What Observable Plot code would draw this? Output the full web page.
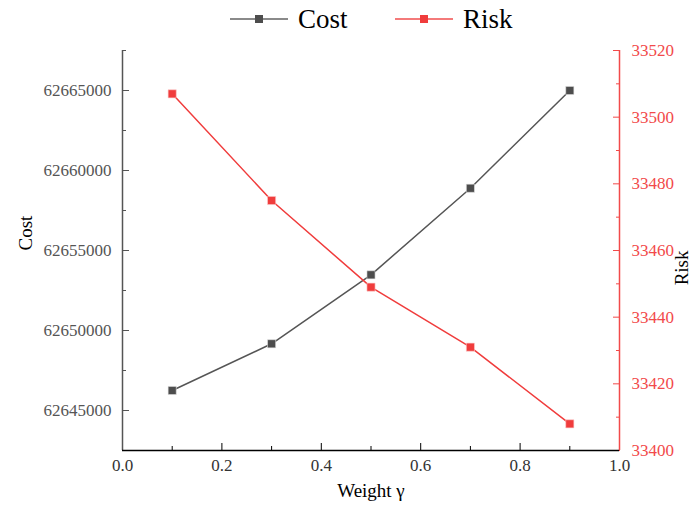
<!DOCTYPE html>
<html>
<head>
<meta charset="utf-8">
<script src="https://cdn.jsdelivr.net/npm/d3@7"></script>
<script src="https://cdn.jsdelivr.net/npm/@observablehq/plot@0.6"></script>
<style>
  body { margin: 0; background: #fff; font-family: "Liberation Serif", "Times New Roman", serif; }
  #wrap { position: relative; width: 694px; height: 513px; }
  #legend { position: relative; height: 38px; }
  .item { position: absolute; top: 0; height: 38px; display: flex; align-items: center; font-size: 27px; color: #000; }
  .item svg { margin-right: 10px; }
</style>
</head>
<body>
<div id="wrap">
  <div id="legend"></div>
  <div id="chart"></div>
</div>
<script>
// ---- data ----
const weights = [0.1, 0.3, 0.5, 0.7, 0.9];
const cost = [62646250, 62649170, 62653480, 62658890, 62665000];
const risk = [33507, 33475, 33449, 33431, 33408];
const seriesNames = ["Cost", "Risk"];
const xTicks = [0, 0.2, 0.4, 0.6, 0.8, 1.0];
const xMinor = [0.1, 0.3, 0.5, 0.7, 0.9];
const costTicks = [62645000, 62650000, 62655000, 62660000, 62665000];
const costMinor = [62647500, 62652500, 62657500, 62662500, 62667500];
const riskTicks = [33400, 33420, 33440, 33460, 33480, 33500, 33520];
const riskMinor = [33410, 33430, 33450, 33470, 33490, 33510];

// ---- scales ----
const costDomain = [62642500, 62667500];
const riskDomain = [33400, 33520];
const toC = r => costDomain[0] + (r - riskDomain[0]) * (costDomain[1] - costDomain[0]) / (riskDomain[1] - riskDomain[0]);
const fromC = c => riskDomain[0] + (c - costDomain[0]) * (riskDomain[1] - riskDomain[0]) / (costDomain[1] - costDomain[0]);

const costColor = "#4d4d4d";
const costLine = "#555555";
const riskColor = "#f03c3c";
const riskAxis = "#f24a4a";
const font = '"Liberation Serif", "Times New Roman", serif';

const costData = weights.map((w, i) => ({x: w, y: cost[i]}));
const riskData = weights.map((w, i) => ({x: w, y: toC(risk[i])}));

const chart = Plot.plot({
  width: 694,
  height: 475,
  marginLeft: 122,
  marginRight: 75,
  marginTop: 12,
  marginBottom: 63,
  style: {fontFamily: font, fontSize: "17px", background: "#fff"},
  x: {domain: [0, 1], label: null},
  y: {domain: costDomain, label: null},
  marks: [
    // minor ticks
    Plot.axisX(xMinor, {tickSize: -4, stroke: "#000", text: null, label: null}),
    Plot.axisY(costMinor, {anchor: "left", tickSize: -4, stroke: "#555", text: null, label: null}),
    Plot.axisY(riskMinor.map(toC), {anchor: "right", tickSize: -4, stroke: riskAxis, text: null, label: null}),
    // major ticks + labels
    Plot.axisX(xTicks, {tickSize: -7, tickPadding: 15, stroke: "#000", color: "#333", tickFormat: d3.format(".1f"), label: null, fontSize: 17}),
    Plot.axisY(costTicks, {anchor: "left", tickSize: -7, tickPadding: 18, stroke: "#555", color: "#555", tickFormat: d => d.toFixed(0), label: null, fontSize: 17}),
    Plot.axisY(riskTicks.map(toC), {anchor: "right", tickSize: -7, tickPadding: 19, stroke: riskAxis, color: riskAxis, tickFormat: d => String(Math.round(fromC(d))), label: null, fontSize: 17}),
    // axis lines
    Plot.ruleX([0], {stroke: "#555", strokeWidth: 1.5}),
    Plot.ruleX([1], {stroke: riskAxis, strokeWidth: 1.5}),
    Plot.ruleY([costDomain[0]], {stroke: "#000", strokeWidth: 1.5}),
    // axis titles
    Plot.text(["Cost"], {frameAnchor: "left", dx: -97, rotate: -90, fontSize: 19, fill: "#000"}),
    Plot.text(["Risk"], {frameAnchor: "right", dx: 62, rotate: -90, fontSize: 19, fill: "#000"}),
    Plot.text(["Weight γ"], {frameAnchor: "bottom", dy: 46, fontSize: 19, fill: "#000"}),
    // series
    Plot.line(costData, {x: "x", y: "y", stroke: costLine, strokeWidth: 1.5}),
    Plot.line(riskData, {x: "x", y: "y", stroke: riskColor, strokeWidth: 1.5}),
    Plot.dot(costData, {x: "x", y: "y", symbol: "square", r: 4.6, fill: costColor, stroke: "#e6e6e6", strokeWidth: 0.6}),
    Plot.dot(riskData, {x: "x", y: "y", symbol: "square", r: 4.6, fill: riskColor, stroke: "#fbd0d0", strokeWidth: 0.6})
  ]
});
document.getElementById("chart").appendChild(chart);

// ---- legend ----
const legend = document.getElementById("legend");
const legendItems = [
  {name: seriesNames[0], line: "#8a8a8a", fill: costColor, left: 230},
  {name: seriesNames[1], line: "#f47a7a", fill: riskColor, left: 395}
];
for (const it of legendItems) {
  const div = document.createElement("div");
  div.className = "item";
  div.style.left = it.left + "px";
  div.innerHTML = `<svg width="58" height="12"><line x1="0" y1="6" x2="58" y2="6" stroke="${it.line}" stroke-width="2"/><rect x="25" y="2" width="8" height="8" fill="${it.fill}"/></svg><span>${it.name}</span>`;
  legend.appendChild(div);
}
</script>
</body>
</html>
